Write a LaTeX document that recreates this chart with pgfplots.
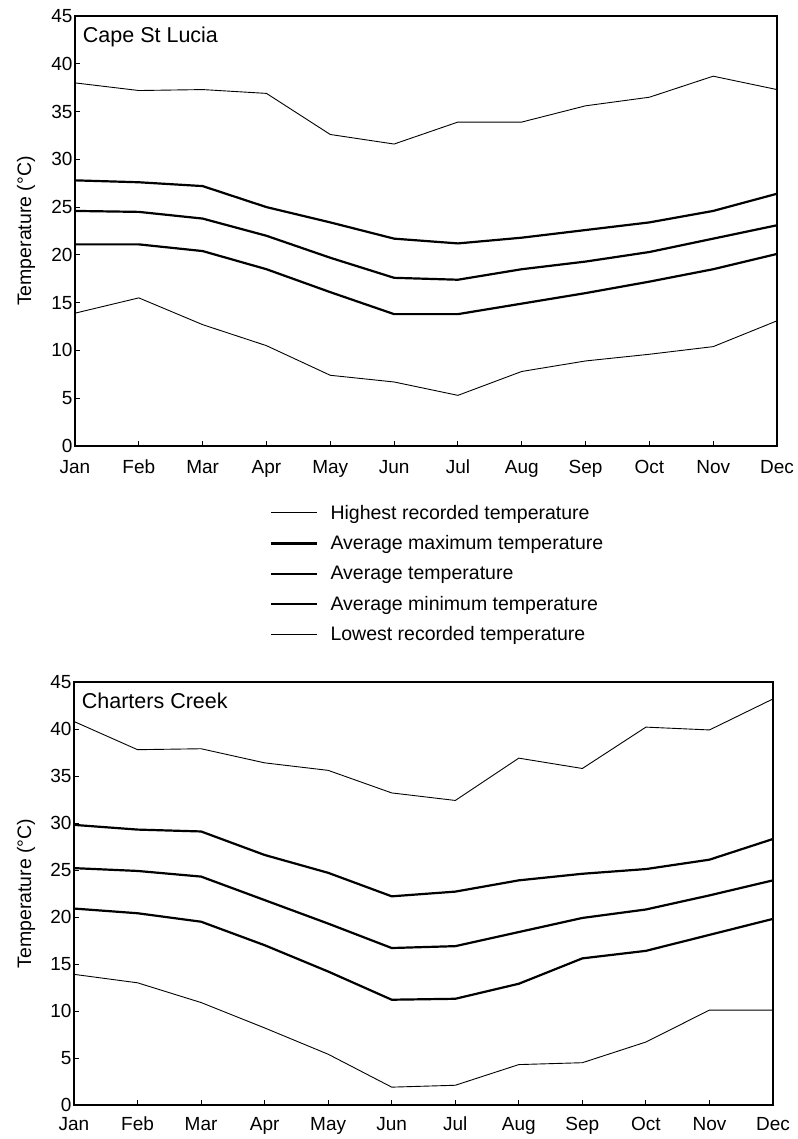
\documentclass[border=0pt]{standalone}
\usepackage{fontspec}
\setmainfont{Liberation Sans}
\usepackage{pgfplots}
\pgfplotsset{compat=1.18}
\newcommand{\tf}{\fontsize{19}{22}\selectfont}
\newcommand{\lf}{\fontsize{19.5}{23}\selectfont}
\pgfplotsset{
  tempax/.style={
    scale only axis,
    xmin=0, xmax=11, ymin=0, ymax=45,
    xtick={0,...,11},
    xticklabels={Jan,Feb,Mar,Apr,May,Jun,Jul,Aug,Sep,Oct,Nov,Dec},
    ytick={0,5,...,45},
    tick align=inside,
    xtick pos=bottom, ytick pos=left,
    major tick length=5pt,
    tick style={black, line width=1pt},
    axis line style={black, line width=1.6pt},
    /pgf/number format/assume math mode=true,
    ticklabel style={font=\tf},
    yticklabel style={xshift=1pt},
    ylabel={Temperature (°C)},
    every axis plot/.append style={black, no markers},
    thin line/.style={line width=0.9pt},
    thick line/.style={line width=2.2pt},
  }
}
\begin{document}
\begin{tikzpicture}
% ---- Cape St Lucia ----
\begin{axis}[tempax, name=top,
  width=702pt, height=430pt,
  xticklabel style={anchor=base, yshift=-27pt},
  ylabel style={font=\lf, at={(axis description cs:-0.0698,0.5)}, anchor=center},
  legend style={at={(0.278,-0.132)}, anchor=north west, draw=none, fill=none,
    font=\lf, row sep=11pt, column sep=10pt, inner sep=0pt, cells={anchor=west}},
  legend image code/.code={\draw[#1] (0pt,0pt) -- (46pt,0pt);},
  legend cell align=left,
]
\node[anchor=north west, font=\fontsize{21.5}{24}\selectfont, inner sep=0pt] at (axis description cs:0.011,0.975) {Cape St Lucia};
\addplot[thin line] coordinates {(0,38.0) (1,37.2) (2,37.3) (3,36.9) (4,32.6) (5,31.6) (6,33.9) (7,33.9) (8,35.6) (9,36.5) (10,38.7) (11,37.3)};
\addlegendentry{Highest recorded temperature}
\addplot[thick line] coordinates {(0,27.8) (1,27.6) (2,27.2) (3,25.0) (4,23.4) (5,21.7) (6,21.2) (7,21.8) (8,22.6) (9,23.4) (10,24.6) (11,26.4)};
\addlegendentry{Average maximum temperature}
\addplot[thick line] coordinates {(0,24.6) (1,24.5) (2,23.8) (3,22.0) (4,19.7) (5,17.6) (6,17.4) (7,18.5) (8,19.3) (9,20.3) (10,21.7) (11,23.1)};
\addlegendentry{Average temperature}
\addplot[thick line] coordinates {(0,21.1) (1,21.1) (2,20.4) (3,18.5) (4,16.1) (5,13.8) (6,13.8) (7,14.9) (8,16.0) (9,17.2) (10,18.5) (11,20.1)};
\addlegendentry{Average minimum temperature}
\addplot[thin line] coordinates {(0,13.9) (1,15.5) (2,12.7) (3,10.5) (4,7.4) (5,6.7) (6,5.3) (7,7.8) (8,8.9) (9,9.6) (10,10.4) (11,13.1)};
\addlegendentry{Lowest recorded temperature}
\end{axis}
% ---- Charters Creek ----
\begin{axis}[tempax, name=bot,
  at={(top.south west)}, anchor=south west, xshift=-1pt, yshift=-659pt,
  width=699pt, height=423pt,
  xticklabel style={anchor=base, yshift=-25pt},
  ylabel style={font=\lf, at={(axis description cs:-0.0687,0.5)}, anchor=center},
]
\node[anchor=north west, font=\fontsize{21.5}{24}\selectfont, inner sep=0pt] at (axis description cs:0.011,0.975) {Charters Creek};
\addplot[thin line] coordinates {(0,40.8) (1,37.8) (2,37.9) (3,36.4) (4,35.6) (5,33.2) (6,32.4) (7,36.9) (8,35.8) (9,40.2) (10,39.9) (11,43.2)};
\addplot[thick line] coordinates {(0,29.8) (1,29.3) (2,29.1) (3,26.6) (4,24.7) (5,22.2) (6,22.7) (7,23.9) (8,24.6) (9,25.1) (10,26.1) (11,28.3)};
\addplot[thick line] coordinates {(0,25.2) (1,24.9) (2,24.3) (3,21.8) (4,19.3) (5,16.7) (6,16.9) (7,18.4) (8,19.9) (9,20.8) (10,22.3) (11,23.9)};
\addplot[thick line] coordinates {(0,20.9) (1,20.4) (2,19.5) (3,17.0) (4,14.2) (5,11.2) (6,11.3) (7,12.9) (8,15.6) (9,16.4) (10,18.1) (11,19.8)};
\addplot[thin line] coordinates {(0,13.9) (1,13.0) (2,10.9) (3,8.2) (4,5.4) (5,1.9) (6,2.1) (7,4.3) (8,4.5) (9,6.7) (10,10.1) (11,10.1)};
\end{axis}
\path (top.south west) ++(-75pt,446pt) rectangle ++(792pt,-1139pt);
\end{tikzpicture}
\end{document}
